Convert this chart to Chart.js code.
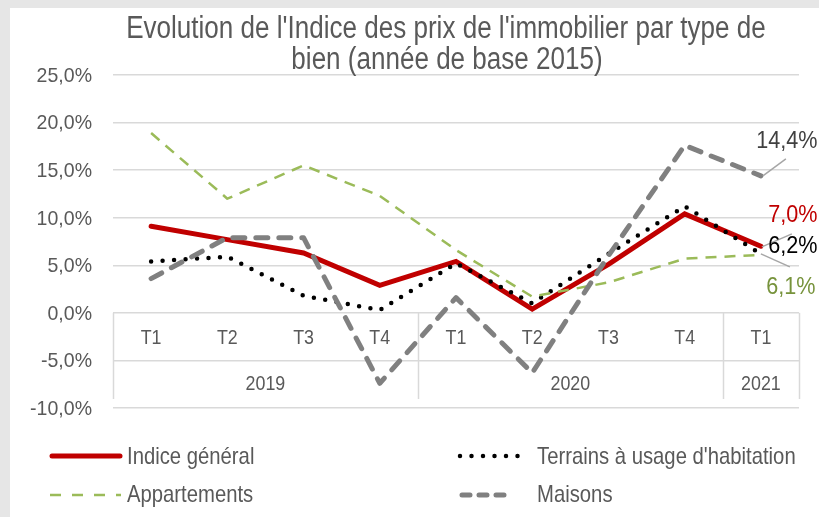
<!DOCTYPE html>
<html>
<head>
<meta charset="utf-8">
<script src="https://cdn.jsdelivr.net/npm/chart.js@4.4.1/dist/chart.umd.min.js"></script>
<style>
  html, body { margin: 0; padding: 0; background: #e6e6e6; }
  #wrap { position: absolute; left: 0; top: 0; width: 819px; height: 517px; }
  #panel { position: absolute; left: 10px; top: 8px; width: 809px; height: 509px; background: #ffffff; }
  canvas { position: absolute; left: 0; top: 0; }
</style>
</head>
<body>
<div id="wrap">
  <div id="panel"></div>
  <canvas id="c" width="819" height="517"></canvas>
</div>
<script>
// ---- data ----
const quarters = ['T1', 'T2', 'T3', 'T4', 'T1', 'T2', 'T3', 'T4', 'T1'];
const years = ['2019', '2020', '2021'];
const yearSpans = [4, 4, 1];
const indiceGeneral = [9.1, 7.7, 6.3, 2.9, 5.4, 0.4, 5.1, 10.4, 7.0];
const terrains = [5.4, 5.9, 1.8, 0.3, 5.2, 1.0, 6.2, 11.2, 6.2];
const appartements = [18.9, 12.0, 15.5, 12.3, 6.6, 1.7, 3.2, 5.7, 6.1];
const maisons = [3.6, 7.9, 7.9, -7.4, 1.6, -6.3, 6.0, 17.6, 14.4];
const seriesNames = ['Indice général', "Terrains à usage d'habitation", 'Appartements', 'Maisons'];
const titleLines = ["Evolution de l'Indice des prix de l'immobilier par type de", "bien (année de base 2015)"];
const yTicks = { min: -10, max: 25, step: 5 };

const FONT = '"Liberation Sans", Arial, sans-serif';
const GRID = '#d9d9d9';
const TEXT = '#595959';

const fmt = v => v.toFixed(1).replace('.', ',') + '%';

// draw horizontally condensed text (narrow look)
function narrowText(ctx, text, x, y, size, align, baseline, color, squeeze) {
  ctx.save();
  ctx.font = size + 'px ' + FONT;
  ctx.fillStyle = color;
  ctx.textBaseline = baseline;
  ctx.textAlign = 'left';
  const w = ctx.measureText(text).width * squeeze;
  let x0 = x;
  if (align === 'center') x0 = x - w / 2;
  else if (align === 'right') x0 = x - w;
  ctx.translate(x0, y);
  ctx.scale(squeeze, 1);
  ctx.fillText(text, 0, 0);
  ctx.restore();
}

const styles = [
  { color: '#c00000', width: 5, dash: [], cap: 'round', join: 'miter' },
  { color: '#000000', width: 4.5, dash: [0, 11.5], cap: 'round', join: 'round' },
  { color: '#9bbb59', width: 2.5, dash: [11, 8], cap: 'butt', join: 'round' },
  { color: '#808080', width: 5, dash: [12, 11], cap: 'round', join: 'round' }
];
const seriesData = [indiceGeneral, terrains, appartements, maisons];
const drawOrder = [3, 2, 1, 0];

const datasets = seriesData.map((d, i) => ({
  label: seriesNames[i],
  data: d,
  borderColor: styles[i].color,
  backgroundColor: styles[i].color,
  borderWidth: styles[i].width,
  borderDash: styles[i].dash,
  borderCapStyle: styles[i].cap,
  borderJoinStyle: styles[i].join,
  pointRadius: 0,
  pointHoverRadius: 0,
  tension: 0,
  fill: false,
  order: drawOrder[i]
}));

const axisBoxes = {
  id: 'axisBoxes',
  beforeDatasetsDraw(chart) {
    const { ctx } = chart;
    const x = chart.scales.x, y = chart.scales.y;
    const y0 = y.getPixelForValue(0);
    const y5 = y.getPixelForValue(-5);
    const y10 = y.getPixelForValue(-10);
    const step = x.getPixelForValue(1) - x.getPixelForValue(0);
    ctx.save();
    ctx.strokeStyle = GRID;
    ctx.lineWidth = 1.5;
    const bounds = [0];
    let acc = 0;
    yearSpans.forEach(s => { acc += s; bounds.push(acc); });
    bounds.forEach(b => {
      const px = Math.round(x.getPixelForValue(b) - step / 2) + 0.5;
      ctx.beginPath();
      ctx.moveTo(px, y0);
      ctx.lineTo(px, y10 - 9);
      ctx.stroke();
    });
    ctx.restore();
    // y tick labels (from the scale's ticks)
    y.ticks.forEach(t => {
      narrowText(ctx, fmt(t.value), 92, y.getPixelForValue(t.value) + 1, 21, 'right', 'middle', TEXT, 0.93);
    });
    // category labels
    quarters.forEach((q, i) => {
      narrowText(ctx, q, x.getPixelForValue(i), (y0 + y5) / 2 + 2, 21, 'center', 'middle', TEXT, 0.85);
    });
    let start = 0;
    years.forEach((yr, j) => {
      const end = start + yearSpans[j] - 1;
      const cx = (x.getPixelForValue(start) + x.getPixelForValue(end)) / 2;
      narrowText(ctx, yr, cx, (y5 + y10) / 2, 21, 'center', 'middle', TEXT, 0.85);
      start = end + 1;
    });
  }
};

const decorations = {
  id: 'decorations',
  afterDraw(chart) {
    const { ctx } = chart;
    // title
    narrowText(ctx, titleLines[0], 446, 38, 31, 'center', 'alphabetic', TEXT, 0.84);
    narrowText(ctx, titleLines[1], 447, 69, 31, 'center', 'alphabetic', TEXT, 0.84);

    // data labels at last points
    const last = quarters.length - 1;
    const pt = i => chart.getDatasetMeta(i).data[last];
    const labelSpecs = [
      { ds: 3, color: '#404040', dx: 26, dy: -35, leader: [[2, 0], [25, -17]] },
      { ds: 0, color: '#c00000', dx: 32, dy: -32, leader: null },
      { ds: 1, color: '#000000', dx: 32, dy: -8, leader: [[1, -7], [31, -20]] },
      { ds: 2, color: '#77933c', dx: 30, dy: 32, leader: [[0, -1], [29, 12]] }
    ];
    labelSpecs.forEach(s => {
      const p = pt(s.ds);
      const v = seriesData[s.ds][last];
      if (s.leader) {
        ctx.save();
        ctx.strokeStyle = '#a6a6a6';
        ctx.lineWidth = 1.5;
        ctx.setLineDash([]);
        ctx.beginPath();
        ctx.moveTo(p.x + s.leader[0][0], p.y + s.leader[0][1]);
        ctx.lineTo(p.x + s.leader[1][0], p.y + s.leader[1][1]);
        ctx.stroke();
        ctx.restore();
      }
      narrowText(ctx, fmt(v), p.x + s.dx, p.y + s.dy + 1, 24, 'center', 'middle', s.color, 0.9);
    });

    // legend
    const legendItems = [
      { i: 0, x0: 52, x1: 120, y: 456, tx: 127, ty: 463.5 },
      { i: 1, x0: 460, x1: 522, y: 456, tx: 537, ty: 463.5 },
      { i: 2, x0: 50, x1: 121, y: 495, tx: 127, ty: 502 },
      { i: 3, x0: 462, x1: 504, y: 495, tx: 537, ty: 502 }
    ];
    const legendDash = [[], [0, 11.5], [11, 11], [8, 9]];
    legendItems.forEach(it => {
      const st = styles[it.i];
      ctx.save();
      ctx.strokeStyle = st.color;
      ctx.lineWidth = st.width;
      ctx.lineCap = st.cap;
      ctx.setLineDash(legendDash[it.i]);
      ctx.beginPath();
      ctx.moveTo(it.x0, it.y);
      ctx.lineTo(it.x1, it.y);
      ctx.stroke();
      ctx.restore();
      narrowText(ctx, seriesNames[it.i], it.tx, it.ty, 24, 'left', 'alphabetic', TEXT, 0.845);
    });
  }
};

new Chart(document.getElementById('c'), {
  type: 'line',
  data: { labels: quarters, datasets },
  options: {
    responsive: false,
    animation: false,
    events: [],
    layout: { padding: { left: 0, right: 20, top: 75, bottom: 109 } },
    plugins: { legend: { display: false }, title: { display: false }, tooltip: { enabled: false } },
    scales: {
      x: { display: false, offset: true },
      y: {
        min: yTicks.min, max: yTicks.max,
        ticks: { stepSize: yTicks.step, display: false },
        grid: { color: GRID, lineWidth: 1.5, drawTicks: false },
        border: { display: false },
        afterFit(scale) { scale.width = 113; }
      }
    }
  },
  plugins: [axisBoxes, decorations]
});
</script>
</body>
</html>
